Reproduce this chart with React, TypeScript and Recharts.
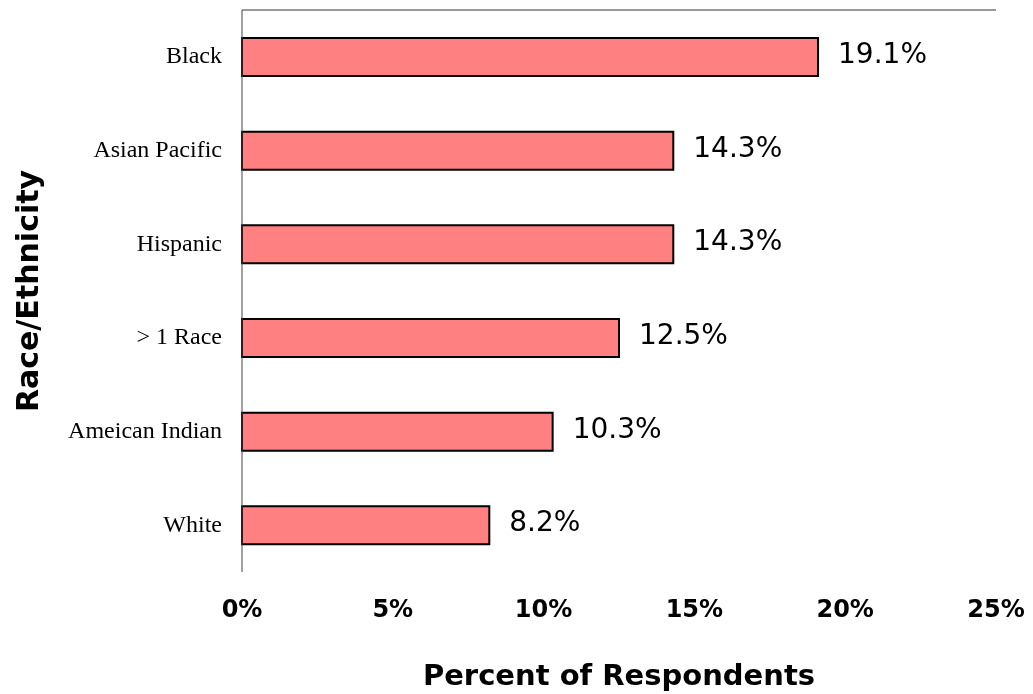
import { BarChart, Bar, XAxis, YAxis, LabelList, Label } from 'recharts';

// respondents by race/ethnicity, in percent
const groups = ['Black', 'Asian Pacific', 'Hispanic', '> 1 Race', 'Ameican Indian', 'White '];
const shares = [19.1, 14.3, 14.3, 12.5, 10.3, 8.2];
const xTicks = [0, 5, 10, 15, 20, 25];

const rows = groups.map((name, i) => ({ name, value: shares[i] }));

const sans = '"DejaVu Sans", Verdana, sans-serif';
const serif = '"Liberation Serif", "Times New Roman", serif';

export default function App() {
  return (
    <div style={{ position: 'fixed', left: 0, top: 0, width: 1033, height: 694 }}>
      <BarChart
        width={1033}
        height={694}
        data={rows}
        layout="vertical"
        margin={{ top: 9, right: 37, left: 0, bottom: 0 }}
      >
        {/* thin frame line along the top of the plot */}
        <XAxis
          xAxisId="top"
          orientation="top"
          type="number"
          domain={[0, 25]}
          ticks={xTicks}
          height={1}
          tick={false}
          tickLine={false}
          axisLine={{ stroke: '#333', strokeWidth: 1 }}
        />
        <XAxis
          xAxisId="bottom"
          type="number"
          domain={[0, 25]}
          ticks={xTicks}
          height={122}
          axisLine={false}
          tickLine={false}
          tickSize={0}
          tickMargin={28}
          tickFormatter={(v: number) => `${v}%`}
          tick={{ fill: '#000', fontFamily: sans, fontWeight: 'bold', fontSize: 24 }}
        >
          <Label
            content={({ viewBox }: any) => (
              <text
                x={viewBox.x + viewBox.width / 2}
                y={675}
                textAnchor="middle"
                dominantBaseline="central"
                fontFamily={sans}
                fontWeight="bold"
                fontSize={29}
                fill="#000"
              >
                Percent of Respondents
              </text>
            )}
          />
        </XAxis>
        <YAxis
          type="category"
          dataKey="name"
          width={242}
          axisLine={{ stroke: '#444', strokeWidth: 1 }}
          tickLine={false}
          tickSize={0}
          tickMargin={20}
          tick={{ fill: '#000', fontFamily: serif, fontSize: 24, dy: -2 }}
        >
          <Label
            content={({ viewBox }: any) => {
              const cx = 27;
              const cy = viewBox.y + viewBox.height / 2;
              return (
                <text
                  x={cx}
                  y={cy}
                  transform={`rotate(-90, ${cx}, ${cy})`}
                  textAnchor="middle"
                  dominantBaseline="central"
                  fontFamily={sans}
                  fontWeight="bold"
                  fontSize={30}
                  fill="#000"
                >
                  Race/Ethnicity
                </text>
              );
            }}
          />
        </YAxis>
        <Bar
          xAxisId="bottom"
          dataKey="value"
          fill="#FF8080"
          stroke="#000"
          strokeWidth={2}
          barSize={38}
          isAnimationActive={false}
        >
          <LabelList
            dataKey="value"
            position="right"
            offset={20}
            formatter={(v: any) => `${v}%`}
            style={{ fill: '#000', fontFamily: sans, fontSize: 28 }}
            dy={-4}
          />
        </Bar>
      </BarChart>
    </div>
  );
}
